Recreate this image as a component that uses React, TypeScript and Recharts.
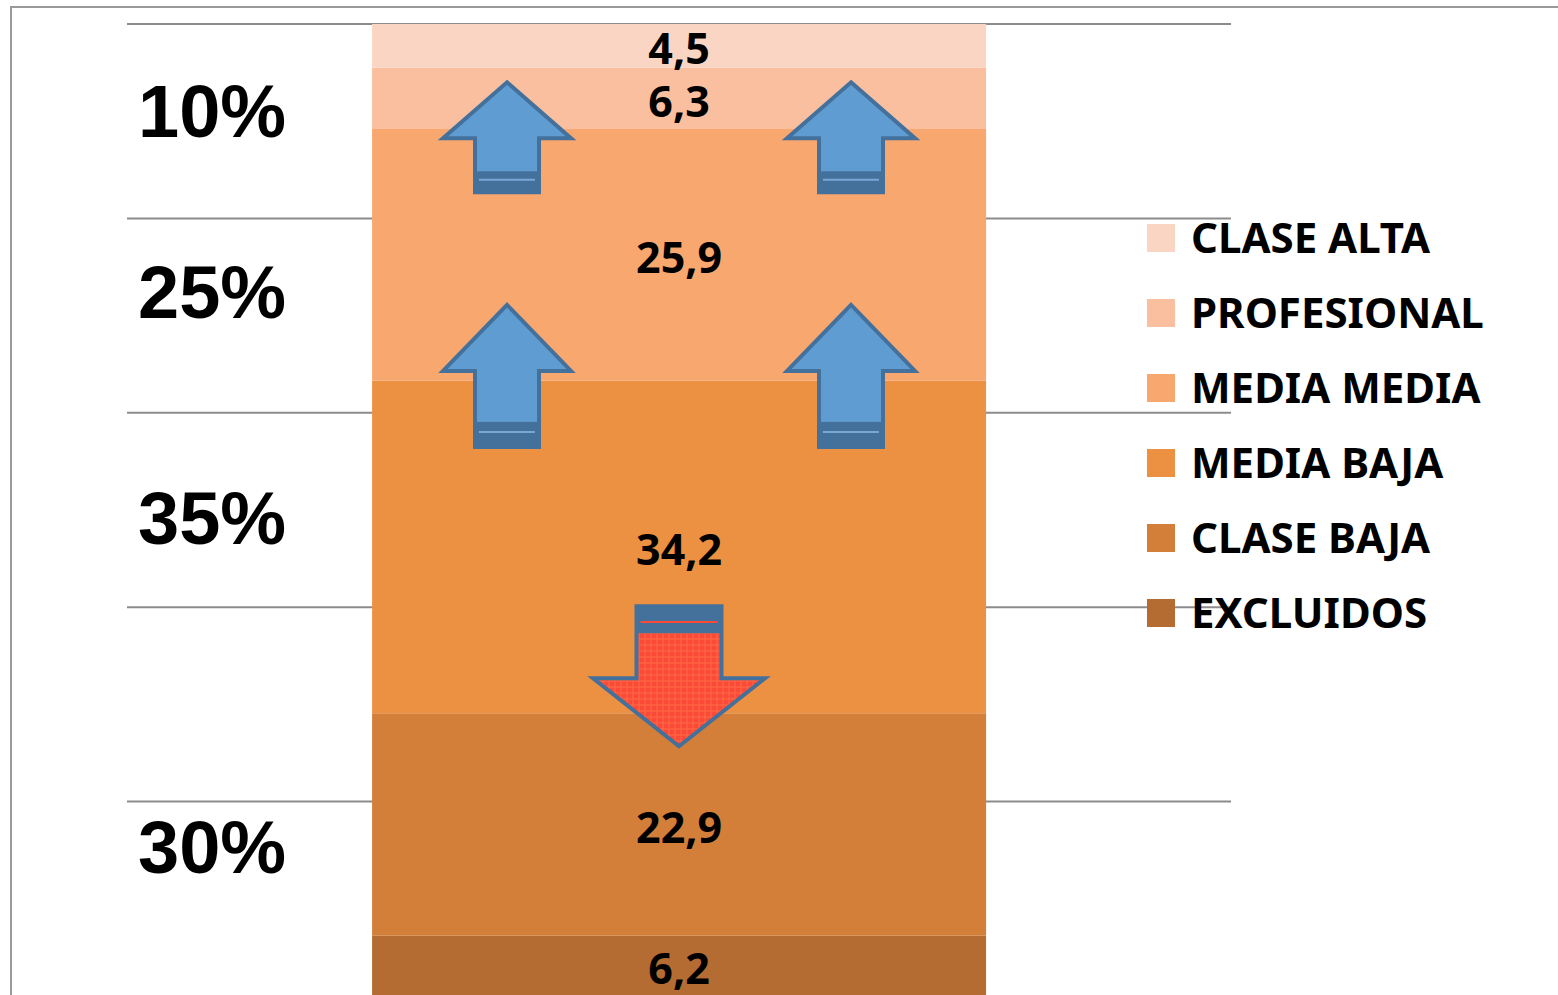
import React from "react";
import { Bar, BarChart, CartesianGrid, LabelList, ReferenceDot, XAxis, YAxis } from "recharts";

const categories = ["Total"];
const seriesNames = ["EXCLUIDOS", "CLASE BAJA", "MEDIA BAJA", "MEDIA MEDIA", "PROFESIONAL", "CLASE ALTA"];
const seriesValues = [6.2, 22.9, 34.2, 25.9, 6.3, 4.5];
const seriesColors = ["#b46c32", "#d37f3a", "#ec9142", "#f8a76e", "#f9bf9f", "#fbd5c4"];
const yTicks = [0, 20, 40, 60, 80, 100];
const bandLabels = ["10%", "25%", "35%", "30%"];

// arrows drawn over the bar, anchored at a y value (tip for up arrows, top for the down one)
const arrows = [
  { dir: "up", side: -1, at: 94.0, headH: 56, shaftH: 54, band: 21 },
  { dir: "up", side: 1, at: 94.0, headH: 56, shaftH: 54, band: 21 },
  { dir: "up", side: -1, at: 71.1, headH: 66, shaftH: 76, band: 25 },
  { dir: "up", side: 1, at: 71.1, headH: 66, shaftH: 76, band: 25 },
  { dir: "down", side: 0, at: 40.1, headH: 68, shaftH: 72, band: 27 },
];

const bandLabelBaselines = [137, 318, 544, 873];

const data = categories.map((name) => {
  const row: Record<string, string | number> = { name };
  seriesNames.forEach((s, i) => {
    row[s] = seriesValues[i];
  });
  return row;
});

const W = 1558;
const H = 995;
const LABEL_FONT = "'Noto Sans', 'Open Sans', sans-serif";

function arrowShape(a: (typeof arrows)[number]) {
  return (props: any) => {
    const { cx, cy } = props;
    if (cx == null || cy == null) return <g />;
    const up = a.dir === "up";
    const headW = up ? 128 : 172;
    const shaftW = up ? 64 : 85;
    const x0 = cx + a.side * 172;
    const outline = "#44709c";
    let pts: number[][];
    let bandY: number;
    let lineY: number;
    if (up) {
      const wingY = cy + a.headH;
      const bottom = wingY + a.shaftH;
      pts = [
        [x0, cy],
        [x0 + headW / 2, wingY],
        [x0 + shaftW / 2, wingY],
        [x0 + shaftW / 2, bottom],
        [x0 - shaftW / 2, bottom],
        [x0 - shaftW / 2, wingY],
        [x0 - headW / 2, wingY],
      ];
      bandY = bottom - a.band;
      lineY = bottom - a.band * 0.6;
    } else {
      const wingY = cy + a.shaftH;
      const tip = wingY + a.headH;
      pts = [
        [x0 - shaftW / 2, cy],
        [x0 + shaftW / 2, cy],
        [x0 + shaftW / 2, wingY],
        [x0 + headW / 2, wingY],
        [x0, tip],
        [x0 - headW / 2, wingY],
        [x0 - shaftW / 2, wingY],
      ];
      bandY = cy;
      lineY = cy + a.band * 0.58;
    }
    const fill = up ? "#5f9cd1" : "url(#redTex)";
    return (
      <g>
        {!up && (
          <defs>
            <pattern id="redTex" width="6" height="6" patternUnits="userSpaceOnUse">
              <rect width="6" height="6" fill="#fb4a37" />
              <path d="M0 3H6M3 0V6" stroke="#ff6a45" strokeWidth="1" />
            </pattern>
          </defs>
        )}
        <polygon
          points={pts.map((p) => p.join(",")).join(" ")}
          fill={fill}
          stroke={outline}
          strokeWidth={4}
          strokeLinejoin="miter"
        />
        <rect x={x0 - shaftW / 2} y={bandY} width={shaftW} height={a.band} fill={outline} />
        <line
          x1={x0 - shaftW / 2 + 4}
          x2={x0 + shaftW / 2 - 4}
          y1={lineY}
          y2={lineY}
          stroke={up ? "#7aa7d6" : "#fb4a37"}
          strokeWidth={2}
        />
      </g>
    );
  };
}

function SegmentLabel(props: any) {
  const { x, y, width, height, value } = props;
  if (value == null) return null;
  const fs = 43;
  return (
    <text
      x={x + width / 2}
      y={y + height / 2 + fs * 0.355 + 3}
      textAnchor="middle"
      fill="#000"
      fontSize={fs}
      fontWeight={700}
      fontFamily={LABEL_FONT}
    >
      {String(value).replace(".", ",")}
    </text>
  );
}

export default function App() {
  const legendItems = seriesNames.map((n, i) => ({ name: n, color: seriesColors[i] })).reverse();
  return (
    <div style={{ position: "relative", width: W, height: H, overflow: "hidden", background: "#fff" }}>
      <style>{"body{margin:0;background:#fff}"}</style>
      <div
        style={{
          position: "absolute",
          left: 10,
          top: 6,
          width: W + 100,
          height: H + 100,
          borderLeft: "2px solid #9a9a9a",
          borderTop: "2px solid #9a9a9a",
          boxSizing: "border-box",
        }}
      />
      <div style={{ position: "absolute", left: 0, top: 0 }}>
        <BarChart
          width={W}
          height={1010}
          data={data}
          margin={{ top: 24, right: 327, bottom: 14, left: 127 }}
          barCategoryGap="22.2%"
        >
          <CartesianGrid vertical={false} stroke="#8c8c8c" strokeWidth={2} />
          <XAxis dataKey="name" type="category" hide />
          <YAxis type="number" domain={[0, 100]} ticks={yTicks} hide />
          {seriesNames.map((s, i) => (
            <Bar key={s} dataKey={s} stackId="a" fill={seriesColors[i]} isAnimationActive={false}>
              <LabelList dataKey={s} content={SegmentLabel} />
            </Bar>
          ))}
          {arrows.map((a, i) => (
            <ReferenceDot key={i} x={categories[0]} y={a.at} r={0} shape={arrowShape(a)} ifOverflow="visible" />
          ))}
        </BarChart>
      </div>
      <svg width={W} height={H} style={{ position: "absolute", left: 0, top: 0, pointerEvents: "none" }}>
        {bandLabels.map((t, i) => (
          <text
            key={t + i}
            x={138}
            y={bandLabelBaselines[i]}
            fontFamily="'Liberation Sans', Arial, sans-serif"
            fontWeight={700}
            fontSize={74}
            fill="#000"
          >
            {t}
          </text>
        ))}
      </svg>
      <div style={{ position: "absolute", left: 1147, top: 200 }}>
        {legendItems.map((it) => (
          <div key={it.name} style={{ display: "flex", alignItems: "center", height: 75 }}>
            <div style={{ width: 28, height: 28, background: it.color, marginRight: 16 }} />
            <span
              style={{
                fontFamily: LABEL_FONT,
                fontWeight: 700,
                fontSize: 42,
                lineHeight: 1,
                color: "#000",
                whiteSpace: "nowrap",
                position: "relative",
                top: -1,
              }}
            >
              {it.name}
            </span>
          </div>
        ))}
      </div>
    </div>
  );
}
